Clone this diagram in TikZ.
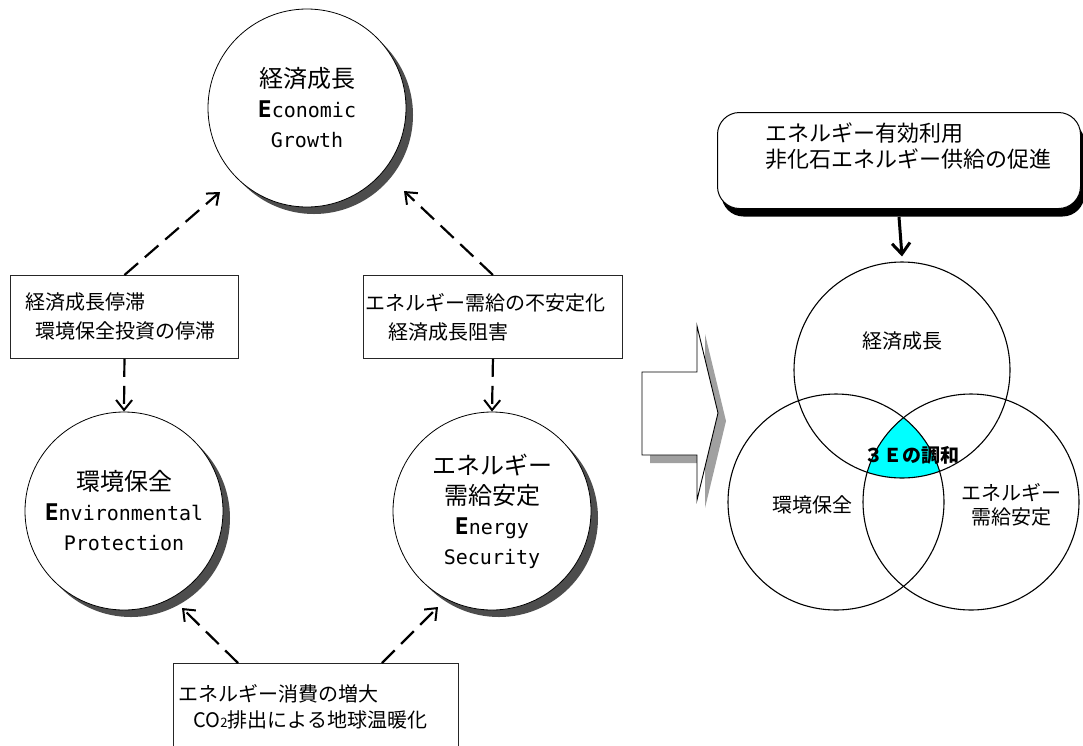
\documentclass[tikz,border=0pt]{standalone}
\usepackage{fontspec}
\setmainfont{Noto Sans CJK JP}
\newfontfamily\lat{DejaVu Sans Mono}
\usetikzlibrary{arrows.meta,shadows,calc}
\definecolor{shd}{HTML}{4D4D4D}
\definecolor{shdl}{HTML}{A0A0A0}
\definecolor{harm}{HTML}{00FFFF}
\newcommand\latn{\lat\fontsize{20}{30}\selectfont}
\newcommand\latb{\lat\bfseries\fontsize{23}{30}\selectfont}
\begin{document}
\begin{tikzpicture}[x=1pt,y=-1pt,
  bigc/.style={circle, draw=black, line width=0.8pt, fill=white, minimum size=198pt,
    inner sep=0pt, align=center, font=\fontsize{24}{30}\selectfont,
    drop shadow={shadow xshift=7pt, shadow yshift=-7pt, fill=shd, opacity=1}},
  tbox/.style={rectangle, draw=black!85, line width=0.9pt, fill=white, align=left,
    anchor=north west, inner ysep=0pt},
  darr/.style={line width=2.2pt, dash pattern=on 18pt off 9pt,
    -{Straight Barb[length=10pt,width=16pt,line width=2pt]}},
  sarr/.style={line width=3pt, -{Straight Barb[length=11pt,width=18pt,line width=3pt]}},
  vc/.style={circle, draw=black, line width=1.1pt, minimum size=216pt, inner sep=0pt},
  vlab/.style={font=\fontsize{20}{24}\selectfont, align=center, inner sep=0pt},
  rbox/.style={rectangle, rounded corners=22pt, draw=black, line width=1pt, fill=white,
    anchor=north west, minimum width=363pt, minimum height=96pt,
    drop shadow={shadow xshift=4pt, shadow yshift=-8pt, fill=black, opacity=1}}
]
\useasboundingbox (0,0) rectangle (1083,745);
\clip (0,0) rectangle (1083,745);

% ---------- left: three circles ----------
\node[bigc] (eco) at (307,108) {経済成長\\{\latb E}{\latn conomic}\\{\latn Growth}};
\node[bigc] (env) at (124,511) {環境保全\\{\latb E}{\latn nvironmental}\\{\latn Protection}};
\node[bigc] (ene) at (492,511) {エネルギー\\需給安定\\{\latb E}{\latn nergy}\\{\latn Security}};

% ---------- left: boxes ----------
\node[tbox, minimum width=228pt, minimum height=83pt, inner xsep=15pt, text width=198pt,
  font=\fontsize{20}{29}\selectfont] (b1) at (10,275)
  {経済成長停滞\\\hspace*{10pt}環境保全投資の停滞};
\node[tbox, minimum width=259pt, minimum height=83pt, inner xsep=2pt, text width=255pt,
  font=\fontsize{20}{29}\selectfont] (b2) at (363,275)
  {エネルギー需給の不安定化\\\hspace*{23pt}経済成長阻害};
\node[tbox, minimum width=285pt, minimum height=86pt, inner xsep=5pt, text width=275pt,
  font=\fontsize{20}{26}\selectfont] (b3) at (173,663)
  {エネルギー消費の増大\\\hspace*{15pt}CO{\fontsize{13}{13}\selectfont 2}排出による地球温暖化};

% ---------- left: connectors ----------
\coordinate (t1) at (220,192);
\coordinate (t2) at (404,191);
\coordinate (t5) at (182,608);
\coordinate (t6) at (438,607);
\draw[darr] (b1.north) -- (t1);
\draw[darr] (b2.north) -- (t2);
\draw[darr] (b1.south) -- (env.north);
\draw[darr] (b2.south) -- (ene.north);
\draw[darr] ([xshift=65pt]b3.north west) -- (t5);
\draw[darr] ([xshift=209pt]b3.north west) -- (t6);

% ---------- block arrow ----------
\fill[shdl, shift={(8,8)}] (642,372) -- (697,372) -- (697,326) -- (718,413) -- (697,500) -- (697,455) -- (642,455) -- cycle;
\draw[line width=0.9pt, fill=white] (642,372) -- (697,372) -- (697,326) -- (718,413) -- (697,500) -- (697,455) -- (642,455) -- cycle;

% ---------- right: rounded box ----------
\node[rbox] (rb) at (717,112) {};
\node[anchor=west, inner sep=0pt, align=left, font=\fontsize{22}{26}\selectfont] (rbt) at (765,146)
  {エネルギー有効利用\\非化石エネルギー供給の促進};

% ---------- right: Venn ----------
\coordinate (ct) at (902,370);
\coordinate (cl) at (836,502);
\coordinate (cr) at (971,502);
\begin{scope}
  \clip (ct) circle[radius=108pt];
  \clip (cl) circle[radius=108pt];
  \fill[harm] (cr) circle[radius=108pt];
\end{scope}
\node[vc] (vtop) at (ct) {};
\node[vc] (vleft) at (cl) {};
\node[vc] (vright) at (cr) {};
\draw[sarr] ([yshift=-8pt]rb.south) -- ([yshift=5pt]vtop.north);

\node[vlab] (l1) at (902,341) {経済成長};
\node[vlab] (l2) at (812,505) {環境保全};
\node[vlab] (l3) at (1011,505) {エネルギー\\需給安定};
\node[vlab, font=\fontsize{19}{24}\selectfont\bfseries] (l4) at (912,455) {３Ｅの調和};
\end{tikzpicture}
\end{document}
